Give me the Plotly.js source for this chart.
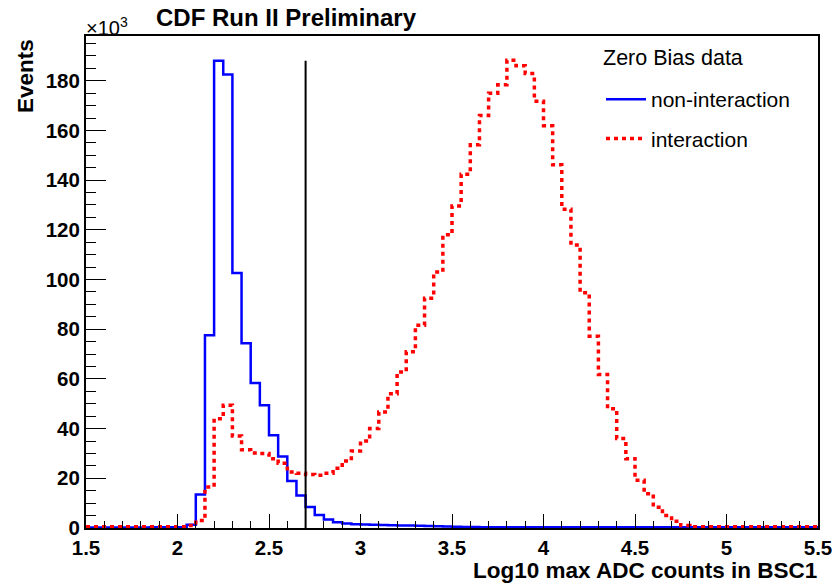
<!DOCTYPE html>
<html>
<head>
<meta charset="utf-8">
<script src="https://cdn.plot.ly/plotly-3.0.1.min.js"></script>
<style>html,body{margin:0;padding:0;background:#fff;}#chart{width:833px;height:583px;}</style>
</head>
<body>
<div id="chart"></div>
<script>
// Histogram binning (x axis: Log10 max ADC counts in BSC1)
const binStart = 1.5;
const binWidth = 0.05;
const binCount = 80;

// Events (x10^3) per bin, non-interaction (blue, solid)
const nonInteraction = [
  0.2, 0.2, 0.2, 0.2, 0.2, 0.2, 0.2, 0.3, 0.3, 0.3,
  0.3, 1.3, 13.5, 77.6, 188, 182.5, 102.6, 74.4, 58.4, 49.4,
  37.3, 28.8, 18.9, 13.1, 8.5, 5.2, 3.4, 2.3, 1.8, 1.5,
  1.4, 1.3, 1.2, 1.1, 1.0, 1.0, 0.9, 0.8, 0.7, 0.6,
  0.5, 0.45, 0.4, 0.35, 0.3, 0.3, 0.3, 0.3, 0.3, 0.3,
  0.3, 0.3, 0.3, 0.3, 0.3, 0.3, 0.3, 0.3, 0.3, 0.3,
  0.3, 0.3, 0.3, 0.3, 0.3, 0.3, 0.3, 0.3, 0.3, 0.3,
  0.3, 0.3, 0.3, 0.3, 0.3, 0.3, 0.3, 0.3, 0.3, 0.3
];

// Events (x10^3) per bin, interaction (red, dashed)
const interaction = [
  0.5, 0.5, 0.5, 0.5, 0.5, 0.5, 0.5, 0.5, 0.5, 0.5,
  0.5, 1, 3, 16.5, 44, 49.4, 37, 31.5, 30.2, 30,
  27.9, 26.1, 22.5, 22, 21.5, 21.2, 22, 24, 27, 31,
  35, 40, 46.7, 54, 62.8, 70.9, 81.6, 92.5, 103, 118,
  129.6, 142.4, 154.2, 166, 175, 178.4, 188.2, 186, 182.9, 171.7,
  161.9, 146.2, 128.3, 113.9, 94.7, 77.2, 61.8, 48, 36, 27.9,
  19.2, 13.8, 8.4, 5, 2.7, 1, 0.5, 0.5, 0.5, 0.5,
  0.5, 0.5, 0.5, 0.5, 0.5, 0.5, 0.5, 0.5, 0.5, 0.5
];

// Selection cut
const cutValue = 2.7;
const cutLineTop = 188;

const seriesNames = ["non-interaction", "interaction"];
const legendHeader = "Zero Bias data";
const plotTitle = "CDF Run II Preliminary";
const xTitle = "Log10 max ADC counts in BSC1";
const yTitle = "Events";

// step-histogram coordinates
const edges = [];
for (let i = 0; i <= binCount; i++) edges.push(+(binStart + i * binWidth).toFixed(4));
function stepY(vals) { return vals.concat([vals[vals.length - 1]]); }

const FAM = "Liberation Sans, Arial, sans-serif";
const tickFont = {family: FAM, size: 20.5, color: "#000", weight: "bold"};

const traces = [
  {
    x: edges, y: stepY(nonInteraction), type: "scatter", mode: "lines",
    line: {shape: "hv", color: "#0000ff", width: 2.5},
    name: seriesNames[0], legendgroup: "a"
  },
  {
    x: edges, y: stepY(interaction), type: "scatter", mode: "lines",
    line: {shape: "hv", color: "#ff0000", width: 3.5, dash: "4px,4px"},
    name: seriesNames[1], legendgroup: "b"
  },
  {
    x: [cutValue, cutValue], y: [0, cutLineTop], type: "scatter", mode: "lines",
    line: {color: "#000", width: 2}, showlegend: false, hoverinfo: "skip"
  }
];

const layout = {
  width: 833, height: 583,
  margin: {l: 86, r: 15, t: 36, b: 55},
  paper_bgcolor: "#fff", plot_bgcolor: "#fff",
  showlegend: true,
  legend: {
    x: (601 - 86) / 732, y: (528 - 79) / 492, xanchor: "left", yanchor: "top",
    bgcolor: "rgba(0,0,0,0)", borderwidth: 0,
    font: {family: FAM, size: 21, color: "#000"},
    traceorder: "grouped", tracegroupgap: 9, itemwidth: 40
  },
  xaxis: {
    range: [1.5, 5.5], dtick: 0.5, tick0: 1.5,
    ticks: "inside", ticklen: 14, tickwidth: 1, tickcolor: "#000",
    minor: {dtick: 0.1, ticks: "inside", ticklen: 7, tickwidth: 1, tickcolor: "#000"},
    showline: true, linecolor: "#000", linewidth: 2, mirror: true,
    showgrid: false, zeroline: false,
    tickfont: tickFont
  },
  yaxis: {
    range: [0, 198], dtick: 20, tick0: 0,
    ticks: "inside", ticklen: 20, tickwidth: 1, tickcolor: "#000",
    minor: {dtick: 5, ticks: "inside", ticklen: 10, tickwidth: 1, tickcolor: "#000"},
    showline: true, linecolor: "#000", linewidth: 2, mirror: true,
    showgrid: false, zeroline: false,
    tickfont: tickFont
  },
  annotations: [
    {text: plotTitle, xref: "paper", yref: "paper", x: (154 - 86) / 732, y: 1, yshift: 3,
     xanchor: "left", yanchor: "bottom", showarrow: false,
     font: {family: FAM, size: 24, color: "#000", weight: "bold"}},
    {text: "×10<sup>3</sup>", xref: "paper", yref: "paper", x: 0, xshift: -2, y: 1, yshift: -5,
     xanchor: "left", yanchor: "bottom", showarrow: false,
     font: {family: FAM, size: 20, color: "#000"}},
    {text: yTitle, xref: "paper", yref: "paper", x: 0, xshift: -61, y: 1, yshift: -1,
     xanchor: "center", yanchor: "top", textangle: -90, showarrow: false,
     font: {family: FAM, size: 22.5, color: "#000", weight: "bold"}},
    {text: xTitle, xref: "paper", yref: "paper", x: 1, y: 0, yshift: -29, borderpad: 0,
     xanchor: "right", yanchor: "top", showarrow: false,
     font: {family: FAM, size: 22.5, color: "#000", weight: "bold"}},
    {text: legendHeader, xref: "paper", yref: "paper", x: (601 - 86) / 732, y: (528 - 58) / 492,
     xanchor: "left", yanchor: "middle", showarrow: false,
     font: {family: FAM, size: 21.5, color: "#000"}}
  ]
};

Plotly.newPlot("chart", traces, layout, {displayModeBar: false, staticPlot: true});
</script>
</body>
</html>
